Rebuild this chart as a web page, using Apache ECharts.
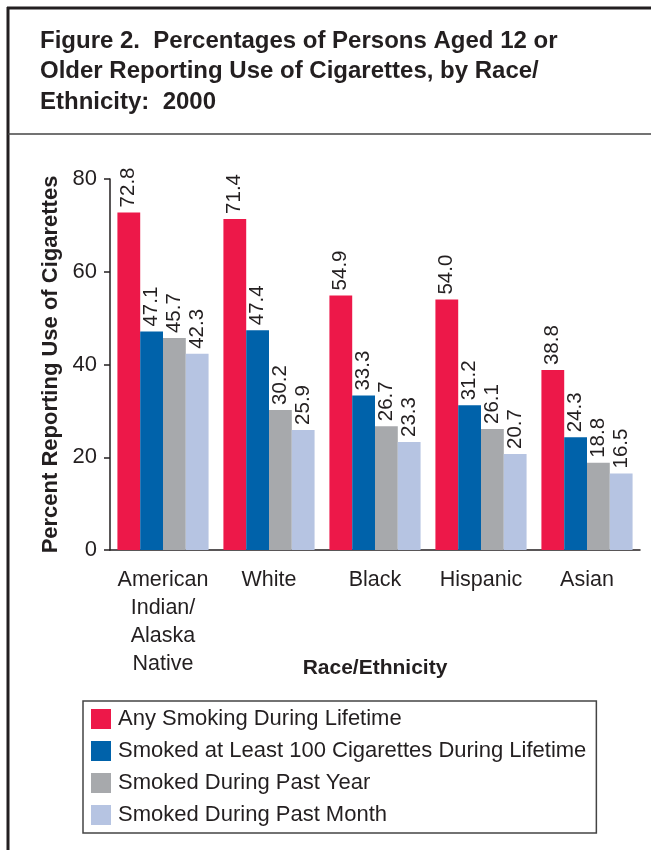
<!DOCTYPE html>
<html>
<head>
<meta charset="utf-8">
<script src="https://cdn.jsdelivr.net/npm/echarts@6/dist/echarts.min.js"></script>
<style>
  html, body { margin: 0; padding: 0; background: #fff; }
  #chart { width: 651px; height: 850px; }
</style>
</head>
<body>
<div id="chart"></div>
<script>
// Race/ethnicity groups on the x axis
const categories = [
  'American\nIndian/\nAlaska\nNative',
  'White',
  'Black',
  'Hispanic',
  'Asian'
];

// Percent reporting each measure of cigarette use
const anyLifetime   = [72.8, 71.4, 54.9, 54.0, 38.8];
const least100      = [47.1, 47.4, 33.3, 31.2, 24.3];
const pastYear      = [45.7, 30.2, 26.7, 26.1, 18.8];
const pastMonth     = [42.3, 25.9, 23.3, 20.7, 16.5];

const seriesNames = [
  'Any Smoking During Lifetime',
  'Smoked at Least 100 Cigarettes During Lifetime',
  'Smoked During Past Year',
  'Smoked During Past Month'
];
const seriesData = [anyLifetime, least100, pastYear, pastMonth];
const seriesColors = ['#ED1849', '#0062AA', '#A7A9AC', '#B6C4E2'];

const yTicks = { min: 0, max: 80, interval: 20 };

const ink = '#231f20';
const font = '"Liberation Sans", Arial, Helvetica, sans-serif';

const chart = echarts.init(document.getElementById('chart'), null, { renderer: 'canvas' });

chart.setOption({
  animation: false,
  backgroundColor: '#fff',
  textStyle: { fontFamily: font, color: ink },
  graphic: [
    // frame: top rule, left rule, divider under the heading
    { type: 'line', shape: { x1: 7, y1: 8, x2: 651, y2: 8 }, style: { stroke: ink, lineWidth: 3 } },
    { type: 'line', shape: { x1: 8, y1: 7, x2: 8, y2: 850 }, style: { stroke: ink, lineWidth: 3 } },
    { type: 'line', shape: { x1: 8, y1: 134, x2: 651, y2: 134 }, style: { stroke: '#444', lineWidth: 1.5 } },
    {
      type: 'text', left: 40, top: 26,
      style: {
        text: 'Figure 2.  Percentages of Persons Aged 12 or\nOlder Reporting Use of Cigarettes, by Race/\nEthnicity:  2000',
        font: 'bold 24px ' + font,
        fill: ink,
        lineHeight: 30.5
      }
    }
  ],
  legend: {
    orient: 'vertical',
    left: 83,
    top: 701,
    itemWidth: 20,
    itemHeight: 20,
    itemGap: 10,
    icon: 'rect',
    borderColor: '#444',
    borderWidth: 1.5,
    borderRadius: 0,
    padding: [7, 10, 7, 8],
    textStyle: { fontSize: 22, lineHeight: 20, color: ink, fontFamily: font, padding: [0, 0, 0, 2] },
    data: seriesNames
  },
  grid: { left: 110, right: 11, top: 179, bottom: 300 },
  xAxis: {
    type: 'category',
    data: categories,
    name: 'Race/Ethnicity',
    nameLocation: 'middle',
    nameGap: 108,
    nameMoveOverlap: false,
    nameTextStyle: { fontSize: 21, fontWeight: 'bold', color: ink, fontFamily: font },
    axisLine: { lineStyle: { color: ink, width: 1.5 } },
    axisTick: { show: false },
    axisLabel: {
      interval: 0,
      margin: 16,
      fontSize: 21.5,
      lineHeight: 28,
      color: ink,
      fontFamily: font,
      align: 'center'
    }
  },
  yAxis: {
    type: 'value',
    min: yTicks.min,
    max: yTicks.max,
    interval: yTicks.interval,
    name: 'Percent Reporting Use of Cigarettes',
    nameLocation: 'middle',
    nameGap: 48,
    nameMoveOverlap: false,
    nameTextStyle: { fontSize: 22, fontWeight: 'bold', color: ink, fontFamily: font },
    axisLine: { show: true, lineStyle: { color: ink, width: 1.5 } },
    axisTick: { show: true, length: 6, lineStyle: { color: ink, width: 1.5 } },
    axisLabel: { fontSize: 22, color: ink, margin: 13, fontFamily: font },
    splitLine: { show: false }
  },
  series: seriesNames.map((name, i) => ({
    name,
    type: 'bar',
    data: seriesData[i],
    barGap: '0%',
    barCategoryGap: '14%',
    itemStyle: { color: seriesColors[i] },
    label: {
      show: true,
      position: 'top',
      rotate: 90,
      align: 'left',
      verticalAlign: 'middle',
      distance: 5,
      fontSize: 20.5,
      color: ink,
      fontFamily: font,
      formatter: p => p.value.toFixed(1)
    }
  }))
});
</script>
</body>
</html>
